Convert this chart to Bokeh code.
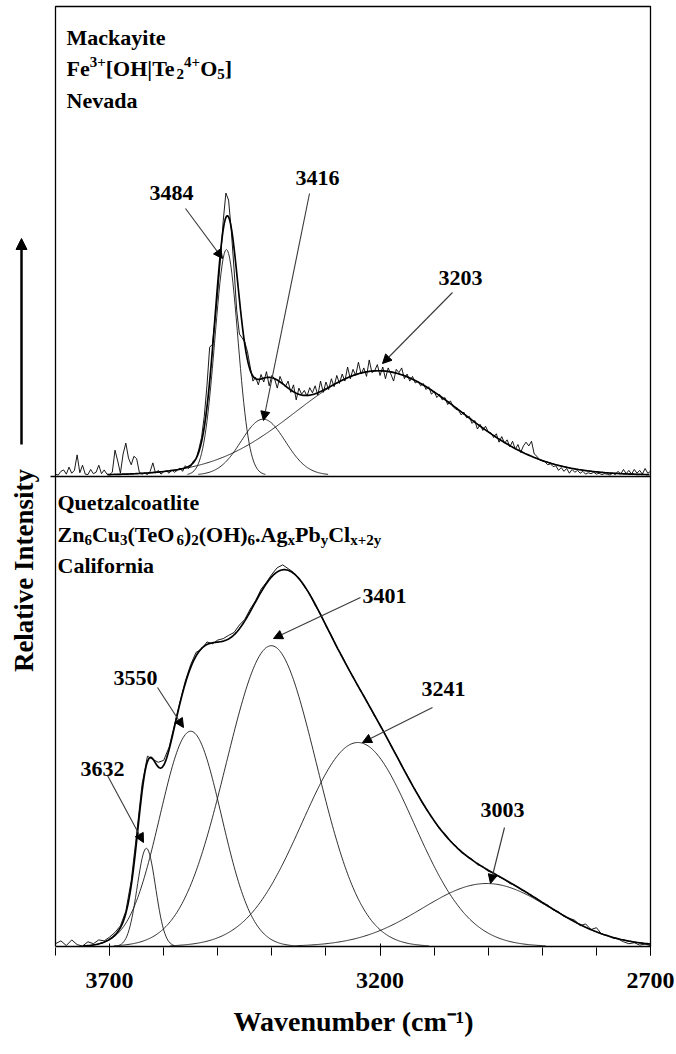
import math
import numpy as np
from bokeh.plotting import figure
from bokeh.models import Range1d, FixedTicker, ColumnDataSource, Label, Arrow, NormalHead, Title
from bokeh.core.properties import value
from bokeh.embed import file_html
from bokeh.resources import INLINE

# ---------------- data ----------------
top_title = "Mackayite"
top_locality = "Nevada"
bottom_title = "Quetzalcoatlite"
bottom_locality = "California"
x_title = "Wavenumber (cm\u207b\u00b9)"
y_title = "Relative Intensity"

# fitted bands (centre cm-1, height in panel units, FWHM cm-1)
top_band_centers = [3484, 3416, 3203]
top_band_heights = [0.48, 0.119, 0.222]
top_band_fwhm = [50, 96, 360]

bottom_band_centers = [3632, 3550, 3401, 3241, 3003]
bottom_band_heights = [0.209, 0.458, 0.640, 0.434, 0.134]
bottom_band_fwhm = [40, 134, 197, 243, 280]

top_wavenumbers = list(range(3800, 2699, -5))
top_observed = [
    0.002, 0.000, 0.008, 0.011, 0.002, 0.017, 0.004, 0.010, 0.043, 0.005,  # 3800
    0.021, 0.002, 0.001, 0.012, 0.003, 0.006, 0.021, 0.003, 0.011, 0.002,  # 3750
    0.001, 0.006, 0.053, 0.030, 0.004, 0.045, 0.068, 0.036, 0.022, 0.040,  # 3700
    0.035, 0.006, 0.002, 0.004, 0.001, 0.008, 0.026, 0.004, 0.010, 0.002,  # 3650
    0.007, 0.009, 0.004, 0.011, 0.006, 0.010, 0.015, 0.008, 0.020, 0.014,  # 3600
    0.018, 0.030, 0.034, 0.055, 0.080, 0.125, 0.190, 0.272, 0.278, 0.330,  # 3550
    0.390, 0.460, 0.540, 0.600, 0.585, 0.520, 0.440, 0.350, 0.300, 0.292,  # 3500
    0.283, 0.262, 0.230, 0.200, 0.208, 0.192, 0.214, 0.198, 0.220, 0.190,  # 3450
    0.212, 0.205, 0.185, 0.210, 0.196, 0.188, 0.200, 0.176, 0.192, 0.160,  # 3400
    0.185, 0.172, 0.180, 0.168, 0.186, 0.175, 0.190, 0.170, 0.200, 0.176,  # 3350
    0.198, 0.182, 0.205, 0.188, 0.212, 0.195, 0.215, 0.200, 0.230, 0.205,  # 3300
    0.225, 0.212, 0.240, 0.215, 0.228, 0.210, 0.245, 0.218, 0.222, 0.235,  # 3250
    0.212, 0.230, 0.205, 0.228, 0.215, 0.200, 0.225, 0.218, 0.228, 0.205,  # 3200
    0.215, 0.200, 0.210, 0.196, 0.200, 0.190, 0.195, 0.182, 0.188, 0.172,  # 3150
    0.178, 0.165, 0.172, 0.160, 0.165, 0.150, 0.158, 0.146, 0.140, 0.138,  # 3100
    0.128, 0.134, 0.122, 0.125, 0.110, 0.116, 0.098, 0.108, 0.095, 0.104,  # 3050
    0.092, 0.090, 0.080, 0.088, 0.070, 0.082, 0.068, 0.075, 0.060, 0.072,  # 3000
    0.055, 0.065, 0.048, 0.062, 0.070, 0.062, 0.072, 0.045, 0.040, 0.032,  # 2950
    0.030, 0.028, 0.022, 0.024, 0.018, 0.020, 0.010, 0.016, 0.008, 0.014,  # 2900
    0.004, 0.012, 0.006, 0.010, 0.004, 0.008, 0.002, 0.005, 0.003, 0.006,  # 2850
    0.002, 0.004, 0.001, 0.003, 0.002, 0.000, 0.004, 0.001, 0.008, 0.002,  # 2800
    0.012, 0.003, 0.010, 0.002, 0.012, 0.004, 0.010, 0.002, 0.014, 0.004,  # 2750
    0.008,                                                                  # 2700
]

bottom_wavenumbers = list(range(3800, 2699, -10))
bottom_observed = [
    0.006, 0.012, 0.002, 0.014, 0.004, 0.001, 0.010, 0.006, 0.014, 0.012,  # 3800
    0.020, 0.030, 0.044, 0.075, 0.140, 0.240, 0.345, 0.405, 0.398, 0.392,  # 3700
    0.396, 0.424, 0.472, 0.520, 0.565, 0.600, 0.626, 0.632, 0.648, 0.644,  # 3600
    0.652, 0.655, 0.662, 0.668, 0.684, 0.696, 0.718, 0.736, 0.760, 0.775,  # 3500
    0.792, 0.806, 0.812, 0.804, 0.796, 0.784, 0.766, 0.750, 0.726, 0.708,  # 3400
    0.682, 0.662, 0.636, 0.618, 0.594, 0.574, 0.552, 0.534, 0.512, 0.490,  # 3300
    0.472, 0.450, 0.428, 0.408, 0.385, 0.365, 0.342, 0.324, 0.302, 0.285,  # 3200
    0.268, 0.250, 0.240, 0.224, 0.214, 0.200, 0.193, 0.186, 0.174, 0.170,  # 3100
    0.160, 0.157, 0.148, 0.143, 0.134, 0.130, 0.121, 0.116, 0.107, 0.102,  # 3000
    0.092, 0.088, 0.078, 0.074, 0.064, 0.060, 0.056, 0.044, 0.048, 0.036,  # 2900
    0.040, 0.026, 0.024, 0.018, 0.016, 0.010, 0.006, 0.008, 0.003, 0.005,  # 2800
    0.002,                                                                  # 2700
]

x_ticks = [3700, 3200, 2700]
x_minor_ticks = list(range(3800, 2699, -100))

# ---------------- layout constants ----------------
K = 595 / 1100.0          # px per cm-1
PX = 470.0                # px per panel unit
TOP_OFF = 1.003           # vertical offset of upper panel
FONT = value("Liberation Serif")


def px_to_wn(px):
    return 3800 - (px - 55) / K


def py_to_y(py):
    return (946 - py) / PX


p = figure(width=676, height=1054,
           x_range=Range1d(3800 + 55 / K, 2700 - 3 / K),
           y_range=Range1d(-2 / PX, 2 + 3 / PX),
           output_backend="svg", toolbar_location=None,
           min_border_left=0, min_border_right=23, min_border_top=3,
           min_border_bottom=106, y_axis_location=None)
p.outline_line_color = None
p.xgrid.visible = False
p.ygrid.visible = False
p.background_fill_color = "white"
p.border_fill_color = "white"

# ---------------- x axis ----------------
ax = p.xaxis[0]
ax.ticker = FixedTicker(ticks=x_ticks, minor_ticks=x_minor_ticks)
ax.axis_line_color = None
ax.major_tick_in = 5
ax.major_tick_out = 7
ax.minor_tick_in = 1
ax.minor_tick_out = 7
ax.major_tick_line_color = "black"
ax.minor_tick_line_color = "black"
ax.major_label_text_font = "Liberation Serif"
ax.major_label_text_font_style = "bold"
ax.major_label_text_font_size = "24px"
ax.major_label_text_color = "black"
ax.major_label_standoff = 17

# x-axis title, centred under the panel box (panel box starts 55 px into the frame)
p.add_layout(Title(text=x_title, align="left", offset=233, standoff=26,
                   text_font="Liberation Serif", text_font_style="bold",
                   text_font_size="28px", text_color="black"), "below")

# ---------------- frame lines ----------------
p.multi_line(xs=[[3800, 3800, 2700, 2700, 3800], [3800 + 5 / K, 2700]],
             ys=[[0, 2, 2, 0, 0], [1, 1]],
             line_color="black", line_width=1.3)


def band(x, c, h, w):
    return h * np.exp(-4 * math.log(2) * (x - c) ** 2 / w ** 2)


xf = np.arange(3800, 2699, -2.0)


def draw_panel(centers, heights, fwhm, wn, obs, off):
    total = np.zeros_like(xf)
    for c, h, w in zip(centers, heights, fwhm):
        g = band(xf, c, h, w)
        total += g
        gy = np.where(g > 0.0015, g + off, np.nan)
        p.line(xf, gy, line_color="#1a1a1a", line_width=0.9)
    ty_ = np.where(total > 0.001, total + off, np.nan)
    p.line(xf, ty_, line_color="black", line_width=1.7)
    p.line(np.array(wn, dtype=float), np.array(obs) + off,
           line_color="black", line_width=0.9)


draw_panel(top_band_centers, top_band_heights, top_band_fwhm,
           top_wavenumbers, top_observed, TOP_OFF)
draw_panel(bottom_band_centers, bottom_band_heights, bottom_band_fwhm,
           bottom_wavenumbers, bottom_observed, 0.0)

# ---------------- peak labels and arrows ----------------
lab_text = [str(v) for v in top_band_centers + bottom_band_centers]
lab_px = [(171, 192), (317, 177), (460, 277),
          (102, 768), (135, 677), (384, 595), (443, 688), (502, 809)]
arr_px = [((185, 208), (222, 258)), ((309, 193), (263, 420)), ((452, 292), (382, 363)),
          ((107, 775), (143, 842)), ((157, 687), (183, 727)), ((360, 597), (273, 638)),
          ((432, 707), (362, 742)), ((504, 827), (490, 883))]
p.text(x=[px_to_wn(a) for a, b in lab_px], y=[py_to_y(b) for a, b in lab_px],
       text=lab_text, text_font=FONT, text_font_style="bold",
       text_font_size="22px", text_align="center", text_baseline="middle",
       text_color="black")
asrc = ColumnDataSource(dict(
    x0=[px_to_wn(s[0]) for s, e in arr_px], y0=[py_to_y(s[1]) for s, e in arr_px],
    x1=[px_to_wn(e[0]) for s, e in arr_px], y1=[py_to_y(e[1]) for s, e in arr_px]))
p.add_layout(Arrow(end=NormalHead(size=9, fill_color="black", line_color="black"),
                   source=asrc, x_start="x0", y_start="y0", x_end="x1", y_end="y1",
                   line_color="#3a3a3a", line_width=1.1))

# ---------------- sample names / formulas ----------------
W = {'F': 611, 'e': 444, '[': 333, 'O': 778, 'H': 778, '|': 220, 'T': 667, ']': 333,
     '+': 570, 'Z': 667, 'n': 556, 'C': 722, 'u': 556, '(': 333, ')': 333, '.': 250,
     'A': 722, 'g': 500, 'P': 611, 'b': 556, 'l': 278, 'x': 500, 'y': 500}

top_formula = [("Fe", "n"), ("3+", "sup"), ("[OH|Te", "n"), ("2", "sub"), ("4+", "sup"),
               ("O", "n"), ("5", "sub"), ("]", "n")]
bottom_formula = [("Zn", "n"), ("6", "sub"), ("Cu", "n"), ("3", "sub"), ("(TeO", "n"),
                  ("6", "sub"), (")", "n"), ("2", "sub"), ("(OH)", "n"), ("6", "sub"),
                  (".Ag", "n"), ("x", "sub"), ("Pb", "n"), ("y", "sub"), ("Cl", "n"),
                  ("x+2y", "sub")]


def add_block(x_px, base_px, lines, size=22, small=15):
    xs, ys, xo, yo, tx, fs = [], [], [], [], [], []
    for line, bpx in zip(lines, base_px):
        if isinstance(line, str):
            line = [(line, "n")]
        cur = 0.0
        for t, kind in line:
            f = size if kind == "n" else small
            xs.append(px_to_wn(x_px))
            ys.append(py_to_y(bpx))
            xo.append(cur)
            yo.append(0 if kind == "n" else (-7 if kind == "sup" else 5))
            tx.append(t)
            fs.append("%dpx" % f)
            cur += sum(W.get(ch, 500) for ch in t) / 1000.0 * f
    src = ColumnDataSource(dict(x=xs, y=ys, xo=xo, yo=yo, t=tx, fs=fs))
    p.text(x="x", y="y", text="t", x_offset="xo", y_offset="yo",
           text_font_size="fs", text_font=FONT, text_font_style="bold",
           text_align="left", text_baseline="alphabetic", text_color="black",
           source=src)


add_block(66, [36.5, 68, 100], [top_title, top_formula, top_locality])
add_block(57, [502, 534, 565], [bottom_title, bottom_formula, bottom_locality])

# ---------------- y title with arrow ----------------
p.add_layout(Label(x=px_to_wn(23), y=py_to_y(570), text=y_title,
                   angle=math.pi / 2, text_font="Liberation Serif",
                   text_font_style="bold", text_font_size="27px",
                   text_align="center", text_baseline="middle", text_color="black"))
p.add_layout(Arrow(end=NormalHead(size=11, fill_color="black", line_color="black"),
                   x_start=px_to_wn(21), y_start=py_to_y(444),
                   x_end=px_to_wn(21), y_end=py_to_y(238),
                   line_color="black", line_width=2.5))

open("out.html", "w").write(file_html(p, INLINE))
